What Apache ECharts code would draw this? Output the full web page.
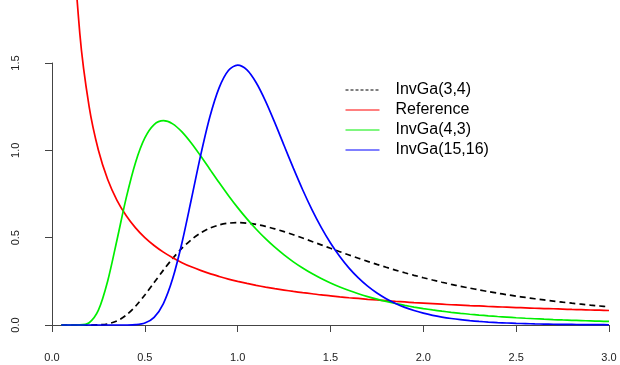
<!DOCTYPE html>
<html><head><meta charset="utf-8">
<script src="https://cdn.jsdelivr.net/npm/echarts@6/dist/echarts.min.js"></script>
<style>html,body{margin:0;padding:0;background:#fff}#c{width:620px;height:365px}</style>
</head><body><div id="c"></div>
<script>
var xs = [0.05,0.10,0.15,0.20,0.25,0.30,0.35,0.40,0.45,0.50,0.55,0.60,0.65,0.70,0.75,0.80,0.85,0.90,0.95,1.00,
1.05,1.10,1.15,1.20,1.25,1.30,1.35,1.40,1.45,1.50,1.55,1.60,1.65,1.70,1.75,1.80,1.85,1.90,1.95,2.00,
2.05,2.10,2.15,2.20,2.25,2.30,2.35,2.40,2.45,2.50,2.55,2.60,2.65,2.70,2.75,2.80,2.85,2.90,2.95,3.00];
var invGa34 = [0,0,0,0,0.0009,0.0064,0.0232,0.0568,0.1076,0.1718,0.2428,0.3142,0.3810,0.4396,0.4883,0.5264,0.5543,0.5728,0.5830,0.5861,
0.5834,0.5759,0.5646,0.5505,0.5343,0.5165,0.4978,0.4784,0.4588,0.4392,0.4198,0.4008,0.3823,0.3643,0.3470,0.3304,0.3144,0.2991,0.2845,0.2707,
0.2575,0.2449,0.2330,0.2217,0.2110,0.2009,0.1913,0.1822,0.1735,0.1654,0.1577,0.1503,0.1434,0.1369,0.1306,0.1248,0.1192,0.1139,0.1089,0.1041];
var reference = [5.0,2.5,1.667,1.25,1.0,0.833,0.714,0.625,0.556,0.5,0.455,0.417,0.385,0.357,0.333,0.3125,0.294,0.278,0.263,0.25,
0.238,0.227,0.217,0.208,0.2,0.192,0.185,0.179,0.172,0.167,0.161,0.156,0.152,0.147,0.143,0.139,0.135,0.132,0.128,0.125,
0.122,0.119,0.116,0.114,0.111,0.109,0.106,0.104,0.102,0.1,0.098,0.096,0.094,0.093,0.091,0.089,0.088,0.086,0.085,0.083];
var invGa43 = [0,0,0.0004,0.0129,0.0849,0.2522,0.4869,0.7292,0.9310,1.0708,1.1473,1.1697,1.1516,1.1056,1.0420,0.9689,0.8922,0.8156,0.7418,0.6721,
0.6075,0.5482,0.4942,0.4453,0.4013,0.3617,0.3263,0.2945,0.2661,0.2406,0.2178,0.1974,0.1792,0.1628,0.1481,0.1349,0.1231,0.1124,0.1028,0.0941,
0.0863,0.0792,0.0728,0.0670,0.0617,0.0569,0.0526,0.0486,0.0450,0.0416,0.0386,0.0358,0.0333,0.0310,0.0288,0.0269,0.0251,0.0234,0.0219,0.0204];
var invGa1516 = [0,0,0,0,0,0,0,0.0001,0.0017,0.0110,0.0438,0.1230,0.2657,0.4711,0.7169,0.9684,1.1905,1.3575,1.4568,1.4883,
1.4607,1.3871,1.2820,1.1585,1.0277,0.8978,0.7743,0.6607,0.5589,0.4693,0.3918,0.3255,0.2693,0.2222,0.1829,0.1502,0.1232,0.1009,0.0827,0.0677,
0.0554,0.0454,0.0372,0.0305,0.0250,0.0205,0.0169,0.0139,0.0114,0.0094,0.0078,0.0064,0.0053,0.0044,0.0037,0.0031,0.0025,0.0021,0.0018,0.0015];
var names = ['InvGa(3,4)','Reference','InvGa(4,3)','InvGa(15,16)'];
var xTicks = ['0.0','0.5','1.0','1.5','2.0','2.5','3.0'];
var yTicks = ['0.0','0.5','1.0','1.5'];

function pairs(ys){ return xs.map(function(x,i){ return [x, ys[i]]; }); }
var font = 'Liberation Sans, Arial, sans-serif';
var chart = echarts.init(document.getElementById('c'));
function mk(name, ys, color, dashed){
  return {name:name, type:'line', data:pairs(ys), symbol:'none', smooth:0.3, clip:false,
    lineStyle:{color:color, width:1.7, type: dashed ? [6,4] : 'solid'}, itemStyle:{color:color},
    emphasis:{disabled:true}, animation:false};
}
chart.setOption({
  animation:false,
  grid:{left:52, right:11, top:63, bottom:40},
  legend:{orient:'vertical', left:340, top:77, itemWidth:34, itemHeight:16, itemGap:4,
    itemStyle:{color:'rgba(0,0,0,0)', borderWidth:0, opacity:0},
    textStyle:{fontFamily:font, fontSize:16, lineHeight:16, color:'#000', padding:[0,0,0,11]},
    data:[
      {name:names[0], lineStyle:{width:1, type:[3,2]}},
      {name:names[1], lineStyle:{width:1}},
      {name:names[2], lineStyle:{width:1}},
      {name:names[3], lineStyle:{width:1}}
    ]},
  xAxis:{type:'value', min:0, max:3, interval:0.5, offset:14,
    axisLine:{show:true, lineStyle:{color:'#444', width:1}},
    axisTick:{show:true, length:7, lineStyle:{color:'#444'}},
    splitLine:{show:false},
    axisLabel:{margin:13, fontFamily:font, fontSize:11, color:'#222',
      formatter:function(v){ var i=Math.round(v/0.5); return xTicks[i]; }}},
  yAxis:{type:'value', min:0, max:1.5, interval:0.5, offset:19,
    axisLine:{show:true, lineStyle:{color:'#444', width:1}},
    axisTick:{show:true, length:7, lineStyle:{color:'#444'}},
    splitLine:{show:false},
    axisLabel:{margin:12, rotate:90, fontFamily:font, fontSize:11, color:'#222',
      formatter:function(v){ var i=Math.round(v/0.5); return yTicks[i]; }}},
  series:[
    mk(names[0], invGa34, '#000000', true),
    mk(names[1], reference, '#ff0000', false),
    mk(names[2], invGa43, '#00ee00', false),
    mk(names[3], invGa1516, '#0000ff', false)
  ]
});
</script></body></html>
